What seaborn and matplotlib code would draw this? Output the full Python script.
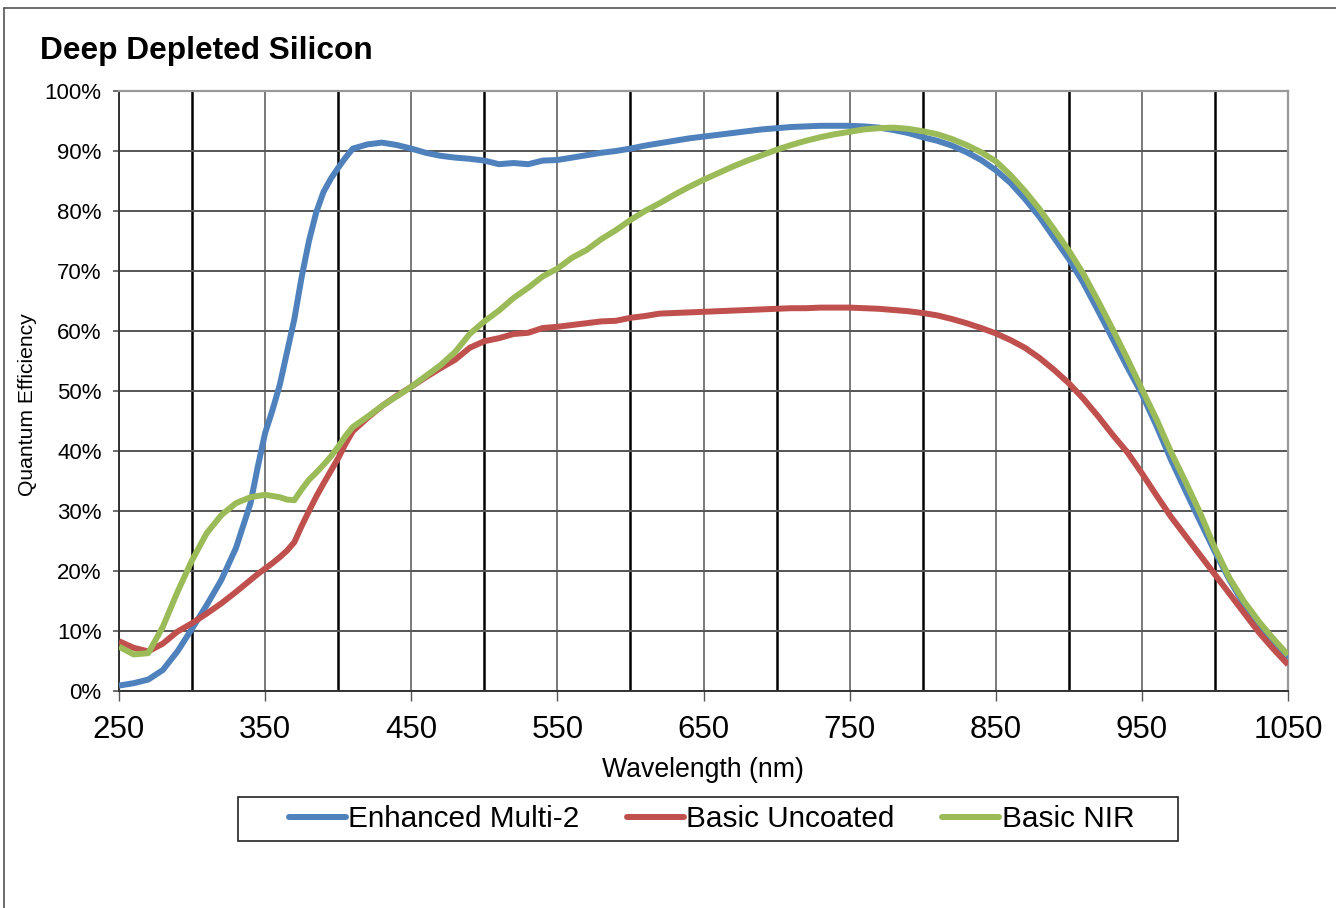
import matplotlib
matplotlib.use("Agg")
import matplotlib.pyplot as plt
from matplotlib.lines import Line2D
from matplotlib.patches import Rectangle
from matplotlib.ticker import FixedLocator, FuncFormatter
import seaborn as sns
import pandas as pd

# ---------------- data ----------------
wavelength = [250, 260, 270, 280, 290, 300, 310, 320, 330, 340, 345, 350, 355, 360, 365, 370, 375,
              380, 385, 390, 395, 400, 405, 410, 420, 430, 440, 450, 460, 470, 480, 490, 500, 510, 520, 530,
              540, 550, 560, 570, 580, 590, 600, 610, 620, 630, 640, 650, 660, 670, 680, 690,
              700, 710, 720, 730, 740, 750, 760, 770, 780, 790, 800, 810, 820, 830, 840, 850,
              860, 870, 880, 890, 900, 910, 920, 930, 940, 950, 960, 970, 980, 990, 1000,
              1010, 1020, 1030, 1040, 1050]

enhanced_multi2 = [0.9, 1.3, 1.9, 3.5, 6.6, 10.4, 14.3, 18.5, 23.8, 31.3, 37.4, 43.0, 46.8, 51.0, 56.5, 62.0, 69.0,
                   75.0, 79.8, 83.2, 85.4, 87.2, 88.9, 90.4, 91.1, 91.4, 91.0, 90.4, 89.7, 89.2, 88.9, 88.7, 88.4, 87.8, 88.0, 87.8,
                   88.4, 88.5, 88.9, 89.3, 89.7, 90.0, 90.4, 90.9, 91.3, 91.7, 92.1, 92.4, 92.7, 93.0, 93.3, 93.6,
                   93.8, 94.0, 94.1, 94.2, 94.2, 94.2, 94.1, 93.9, 93.5, 93.0, 92.3, 91.7, 90.9, 89.8, 88.5, 86.8,
                   84.7, 82.0, 79.0, 75.5, 72.0, 68.0, 63.4, 58.7, 54.0, 49.5, 44.2, 38.5, 33.3, 28.2, 23.2,
                   18.5, 14.4, 11.2, 8.2, 5.5]

basic_uncoated = [8.3, 7.2, 6.6, 7.9, 9.9, 11.3, 12.9, 14.6, 16.5, 18.5, 19.5, 20.4, 21.3, 22.3, 23.4, 24.8, 27.5,
                  30.0, 32.4, 34.6, 36.7, 38.8, 41.2, 43.3, 45.5, 47.5, 49.2, 50.7, 52.3, 53.8, 55.2, 57.2, 58.3, 58.8, 59.5, 59.7,
                  60.5, 60.7, 61.0, 61.3, 61.6, 61.7, 62.2, 62.5, 62.9, 63.0, 63.1, 63.2, 63.3, 63.4, 63.5, 63.6,
                  63.7, 63.8, 63.8, 63.9, 63.9, 63.9, 63.8, 63.7, 63.5, 63.3, 63.0, 62.6, 62.0, 61.3, 60.5, 59.6,
                  58.5, 57.2, 55.5, 53.5, 51.3, 48.7, 45.8, 42.7, 39.8, 36.3, 32.6, 29.0, 25.8, 22.6, 19.4,
                  16.2, 13.0, 9.8, 7.0, 4.4]

basic_nir = [7.4, 6.1, 6.3, 10.7, 16.5, 21.8, 26.3, 29.3, 31.3, 32.3, 32.5, 32.7, 32.5, 32.3, 31.9, 31.8, 33.6,
             35.2, 36.4, 37.7, 39.1, 40.7, 42.5, 44.0, 45.7, 47.5, 49.1, 50.7, 52.5, 54.3, 56.5, 59.5, 61.6, 63.4, 65.5, 67.2,
             69.1, 70.4, 72.2, 73.5, 75.3, 76.8, 78.5, 80.0, 81.3, 82.7, 84.0, 85.2, 86.3, 87.4, 88.4, 89.3,
             90.2, 91.0, 91.7, 92.3, 92.8, 93.2, 93.6, 93.8, 93.9, 93.7, 93.3, 92.8, 92.0, 91.0, 89.8, 88.3,
             86.0, 83.3, 80.3, 76.9, 73.4, 69.5, 65.0, 60.3, 55.4, 50.3, 45.3, 39.8, 34.8, 29.6, 23.8,
             18.8, 14.9, 11.6, 8.7, 6.0]

series_names = ["Enhanced Multi-2", "Basic Uncoated", "Basic NIR"]
series_colors = ["#4F81BD", "#C0504D", "#9BBB59"]

x_tick_values = [250, 350, 450, 550, 650, 750, 850, 950, 1050]
x_minor_values = [300, 400, 500, 600, 700, 800, 900, 1000]
y_tick_values = [0, 10, 20, 30, 40, 50, 60, 70, 80, 90, 100]

title_text = "Deep Depleted Silicon"
x_label = "Wavelength (nm)"
y_label = "Quantum Efficiency"

# ---------------- figure ----------------
sns.set_style("white")
plt.rcParams["font.family"] = ["Liberation Sans", "DejaVu Sans"]
plt.rcParams["text.color"] = "black"

W, H = 1336, 908
fig = plt.figure(figsize=(W / 100, H / 100), dpi=100)
ax = fig.add_axes([119 / W, 1 - 691 / H, (1288 - 119) / W, (691 - 91) / H])

frames = []
for name, vals in zip(series_names, [enhanced_multi2, basic_uncoated, basic_nir]):
    frames.append(pd.DataFrame({"Wavelength": wavelength, "QE": vals, "Series": name}))
df = pd.concat(frames, ignore_index=True)

sns.lineplot(data=df, x="Wavelength", y="QE", hue="Series", hue_order=series_names,
             palette=series_colors, linewidth=4.3, ax=ax, legend=False, sort=False,
             estimator=None, zorder=3)
for ln in ax.lines:
    ln.set_solid_joinstyle("round")
    ln.set_solid_capstyle("butt")

ax.set_xlim(250, 1050)
ax.set_ylim(0, 100)
ax.xaxis.set_major_locator(FixedLocator(x_tick_values))
ax.xaxis.set_minor_locator(FixedLocator(x_minor_values))
ax.yaxis.set_major_locator(FixedLocator(y_tick_values))
ax.yaxis.set_major_formatter(FuncFormatter(lambda v, p: f"{int(v)}%"))

ax.set_axisbelow(True)
ax.grid(False)
ax.grid(True, axis="x", which="major", color="#555555", linewidth=1.1)
ax.grid(True, axis="x", which="minor", color="#000000", linewidth=1.8)
ax.grid(True, axis="y", which="major", color="#555555", linewidth=1.4)

ax.tick_params(axis="x", which="major", direction="out", length=7, width=1.0,
               color="#555555", labelsize=22.5, pad=10.5, bottom=True, labelcolor="black")
ax.tick_params(axis="x", which="minor", length=0, bottom=False)
ax.tick_params(axis="y", which="major", direction="out", length=4.5, width=1.2,
               color="#555555", labelsize=16, pad=8, left=True, labelcolor="black")

for side in ["left", "bottom"]:
    ax.spines[side].set_color("#333333")
    ax.spines[side].set_linewidth(1.4)
for side in ["top", "right"]:
    ax.spines[side].set_color("#999999")
    ax.spines[side].set_linewidth(1.6)

ax.set_xlabel("")
ax.set_ylabel("")
fig.text(703 / W, 1 - 770 / H, x_label, ha="center", va="center", fontsize=19.2, color="black")
fig.text(28 / W, 1 - 405 / H, y_label, ha="center", va="center", rotation=90, fontsize=15.2,
         color="black")
fig.text(40 / W, 1 - 51 / H, title_text, ha="left", va="center", fontsize=22.8,
         fontweight="bold", color="black")

# legend
handles = [Line2D([0], [0], color=c, linewidth=4.3, solid_capstyle="round") for c in series_colors]
leg = fig.legend(handles, series_names, loc="center", ncol=3,
                 bbox_to_anchor=(711.5 / W, 1 - 819 / H), frameon=False,
                 fontsize=21.4, handlelength=1.92, handletextpad=0.08, columnspacing=1.6)
for t in leg.get_texts():
    t.set_color("black")
fig.patches.append(Rectangle((238 / W, 1 - 841 / H), (1178 - 238) / W, (841 - 797) / H,
                             transform=fig.transFigure, fill=False, edgecolor="#222222",
                             linewidth=1.2))

# outer figure border (top and left)
fig.lines.append(Line2D([4 / W, 1.0], [1 - 8 / H, 1 - 8 / H], transform=fig.transFigure,
                        color="#555555", linewidth=1.2))
fig.lines.append(Line2D([4 / W, 4 / W], [0.0, 1 - 8 / H], transform=fig.transFigure,
                        color="#555555", linewidth=1.2))

fig.savefig("out.png", dpi=100)
